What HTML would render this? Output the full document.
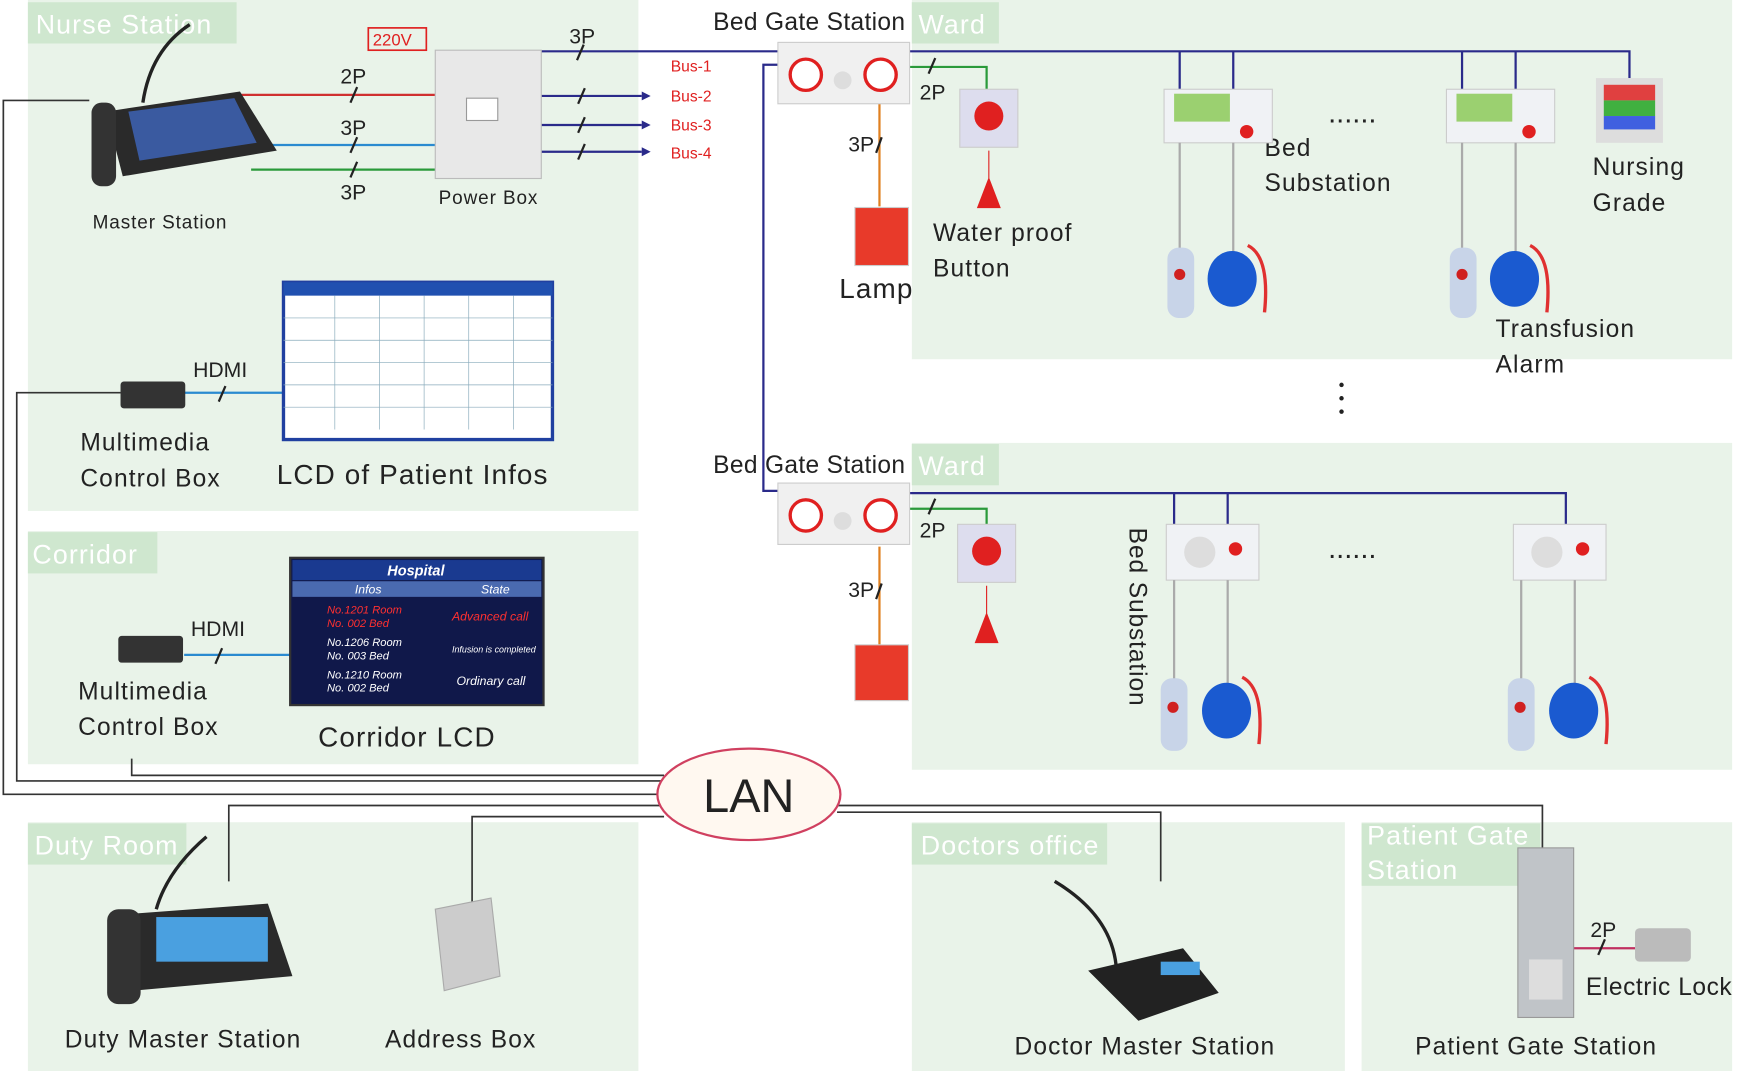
<!DOCTYPE html>
<html><head><meta charset="utf-8"><style>
html,body{margin:0;padding:0;background:#fff;}
svg{display:block;}
text{font-family:"Liberation Sans",sans-serif;}
.big{letter-spacing:1px;}
</style></head><body>
<svg width="1750" height="1071" viewBox="0 0 1568 960" preserveAspectRatio="none" xmlns="http://www.w3.org/2000/svg">
<rect width="1568" height="960" fill="#fff"/>
<g fill="#e9f3e9">
<rect x="25" y="0" width="547" height="458"/>
<rect x="817" y="0" width="735" height="322"/>
<rect x="817" y="397" width="735" height="293"/>
<rect x="25" y="476" width="547" height="209"/>
<rect x="25" y="737" width="547" height="223"/>
<rect x="817" y="737" width="388" height="223"/>
<rect x="1220" y="737" width="332" height="223"/>
</g>
<g fill="#cfe7cf">
<rect x="25" y="2" width="187" height="37"/>
<rect x="817" y="2" width="78" height="37"/>
<rect x="817" y="398" width="78" height="37"/>
<rect x="25" y="477" width="116" height="37"/>
<rect x="25" y="738" width="142" height="37"/>
<rect x="817" y="738" width="175" height="37"/>
<rect x="1220" y="738" width="160" height="56"/>
</g>
<g fill="#fff" font-size="24" class="big">
<text x="32" y="30">Nurse Station</text>
<text x="823" y="30">Ward</text>
<text x="823" y="426">Ward</text>
<text x="29" y="505">Corridor</text>
<text x="31" y="766">Duty Room</text>
<text x="825" y="766">Doctors office</text>
<text x="1225" y="757">Patient Gate</text>
<text x="1225" y="788">Station</text>
</g>
<g fill="none" stroke-width="2">
<path d="M210 85H390" stroke="#d03030"/>
<path d="M215 130H390" stroke="#2a8ad0"/>
<path d="M225 152H390" stroke="#2a9a3a"/>
<path d="M485 46H697" stroke="#2a2a8a"/>
<path d="M485 86H575M485 112H575M485 136H575" stroke="#2a2a8a"/>
<path d="M697 58H684V440H697" stroke="#2a2a8a"/>
<path d="M815 46H1460V70" stroke="#2a2a8a"/>
<path d="M1057 46V80M1105 46V80M1310 46V80M1358 46V80" stroke="#2a2a8a"/>
<path d="M815 60H884V82" stroke="#2a9a3a"/>
<path d="M788 92V185" stroke="#e08020"/>
<path d="M815 442H1403V470M1052 442V470M1100 442V470" stroke="#2a2a8a"/>
<path d="M815 456H884V470" stroke="#2a9a3a"/>
<path d="M788 490V578" stroke="#e08020"/>
<path d="M165 352H255M165 587H260" stroke="#2a8ad0"/>
<path d="M1410 850H1465" stroke="#c03060"/>
<g stroke="#333" stroke-width="1.5">
<path d="M80 90H3V712H595"/>
<path d="M108 352H15V700H595"/>
<path d="M118 680V695H595"/>
<path d="M205 790V722H595"/>
<path d="M423 810V732H595"/>
<path d="M750 722H1382V760"/>
<path d="M750 728H1040V790"/>
</g>
</g>
<g fill="#2a2a8a">
<path d="M575 82l8 4-8 4zM575 108l8 4-8 4zM575 132l8 4-8 4z"/>
</g>
<g stroke="#222" stroke-width="2">
<path d="M314 92l6-14M314 137l6-14M314 159l6-14M517 54l6-14M518 93l6-14M518 119l6-14M518 143l6-14M832 66l6-14M832 461l6-14M785 137l5-14M785 537l5-14M196 360l6-14M193 595l6-14M1432 856l6-14"/>
</g>
<g font-size="19" fill="#222">
<text x="305" y="75">2P</text><text x="305" y="121">3P</text><text x="305" y="179">3P</text>
<text x="510" y="39">3P</text>
<text x="824" y="89">2P</text><text x="760" y="136">3P</text>
<text x="824" y="482">2P</text><text x="760" y="535">3P</text>
<text x="173" y="338">HDMI</text><text x="171" y="570">HDMI</text>
<text x="1425" y="840">2P</text>
</g>
<g font-size="14" fill="#e02020">
<text x="601" y="64">Bus-1</text><text x="601" y="91">Bus-2</text><text x="601" y="117">Bus-3</text><text x="601" y="142">Bus-4</text>
</g>
<rect x="330" y="25" width="52" height="20" fill="none" stroke="#e02020" stroke-width="1.5"/>
<text x="334" y="41" font-size="15" fill="#e02020">220V</text>
<g font-size="22" fill="#222" class="big">
<text x="639" y="27" letter-spacing="0.3">Bed Gate Station</text>
<text x="639" y="424" letter-spacing="0.3">Bed Gate Station</text>
<text x="72" y="404">Multimedia</text><text x="72" y="436">Control Box</text>
<text x="248" y="434" font-size="25">LCD of Patient Infos</text>
<text x="70" y="627">Multimedia</text><text x="70" y="659">Control Box</text>
<text x="285" y="669" font-size="25">Corridor LCD</text>
<text x="752" y="267" font-size="25">Lamp</text>
<text x="836" y="216">Water proof</text><text x="836" y="248">Button</text>
<text x="1133" y="140">Bed</text><text x="1133" y="171">Substation</text>
<text x="1427" y="157">Nursing</text><text x="1427" y="189">Grade</text>
<text x="1340" y="302">Transfusion</text><text x="1340" y="334">Alarm</text>
<text x="58" y="939">Duty Master Station</text>
<text x="345" y="939">Address Box</text>
<text x="909" y="945">Doctor Master Station</text>
<text x="1268" y="945">Patient Gate Station</text>
<text x="1421" y="892" letter-spacing="0.5">Electric Lock</text>
</g>
<text x="83" y="205" font-size="17" fill="#222" letter-spacing="0.8">Master Station</text>
<text x="393" y="183" font-size="17" fill="#222" letter-spacing="0.8">Power Box</text>
<text x="1012" y="473" font-size="22" fill="#222" letter-spacing="0.8" transform="rotate(90 1012 473)">Bed Substation</text>
<text x="1190" y="110" font-size="26" fill="#222">......</text>
<text x="1190" y="500" font-size="26" fill="#222">......</text>
<g fill="#222"><circle cx="1202" cy="345" r="2"/><circle cx="1202" cy="357" r="2"/><circle cx="1202" cy="369" r="2"/></g>
<ellipse cx="671" cy="712" rx="82" ry="41" fill="#fff8f0" stroke="#d04060" stroke-width="2"/>
<text x="630" y="728" font-size="42" fill="#222">LAN</text>
<!-- master station -->
<path d="M95 100L215 82L248 135L110 158Z" fill="#2a2a2a"/>
<path d="M115 100L210 88L230 128L125 144Z" fill="#3a5aa0"/>
<rect x="82" y="92" width="22" height="75" rx="9" fill="#333"/>
<path d="M128 92Q135 45 170 22" stroke="#222" stroke-width="3" fill="none"/>
<rect x="390" y="45" width="95" height="115" fill="#e8e8e8" stroke="#bbb"/>
<rect x="418" y="88" width="28" height="20" fill="#fff" stroke="#999"/>
<g>
<rect x="697" y="38" width="118" height="55" fill="#f0f0f0" stroke="#ccc"/>
<circle cx="722" cy="67" r="14" fill="#fff" stroke="#e02020" stroke-width="3"/>
<circle cx="789" cy="67" r="14" fill="#fff" stroke="#e02020" stroke-width="3"/>
<circle cx="755" cy="72" r="8" fill="#ddd"/>
</g>
<g>
<rect x="697" y="433" width="118" height="55" fill="#f0f0f0" stroke="#ccc"/>
<circle cx="722" cy="462" r="14" fill="#fff" stroke="#e02020" stroke-width="3"/>
<circle cx="789" cy="462" r="14" fill="#fff" stroke="#e02020" stroke-width="3"/>
<circle cx="755" cy="467" r="8" fill="#ddd"/>
</g>
<rect x="766" y="186" width="48" height="52" fill="#e83a2a" stroke="#ccc"/>
<rect x="766" y="578" width="48" height="50" fill="#e83a2a" stroke="#ccc"/>
<rect x="860" y="80" width="52" height="52" fill="#dde" stroke="#ccc"/><circle cx="886" cy="104" r="13" fill="#e02020"/>
<path d="M886 135V160l-10 26h20l-10-26" fill="#e02020" stroke="#e02020"/>
<rect x="858" y="470" width="52" height="52" fill="#dde" stroke="#ccc"/><circle cx="884" cy="494" r="13" fill="#e02020"/>
<path d="M884 525V550l-10 26h20l-10-26" fill="#e02020" stroke="#e02020"/>
<g id="bs1">
<rect x="1043" y="80" width="97" height="48" fill="#f0f2f5" stroke="#ccc"/>
<rect x="1052" y="84" width="50" height="25" fill="#9bd070"/>
<circle cx="1117" cy="118" r="6" fill="#e02020"/>
<path d="M1057 128V225M1105 128V230" stroke="#aaa" stroke-width="2"/>
<rect x="1046" y="222" width="24" height="63" rx="10" fill="#c8d4e8"/><circle cx="1057" cy="246" r="5" fill="#d02020"/>
<ellipse cx="1104" cy="250" rx="22" ry="25" fill="#1a5ad0"/>
<path d="M1118 220q20 10 15 60" stroke="#e03030" stroke-width="3" fill="none"/>
</g>
<use href="#bs1" x="253"/>
<rect x="1430" y="70" width="60" height="58" fill="#ddd"/>
<rect x="1437" y="76" width="46" height="14" fill="#e04040"/><rect x="1437" y="90" width="46" height="14" fill="#40b040"/><rect x="1437" y="104" width="46" height="12" fill="#4060e0"/>
<g id="bs2">
<rect x="1045" y="470" width="83" height="50" fill="#f0f2f5" stroke="#ccc"/>
<circle cx="1075" cy="495" r="14" fill="#ddd"/><circle cx="1107" cy="492" r="6" fill="#e02020"/>
<path d="M1052 520V610M1100 520V615" stroke="#aaa" stroke-width="2"/>
<rect x="1040" y="608" width="24" height="65" rx="10" fill="#c8d4e8"/><circle cx="1051" cy="634" r="5" fill="#d02020"/>
<ellipse cx="1099" cy="637" rx="22" ry="25" fill="#1a5ad0"/>
<path d="M1113 607q20 10 15 60" stroke="#e03030" stroke-width="3" fill="none"/>
</g>
<use href="#bs2" x="311"/>
<rect x="254" y="253" width="241" height="141" fill="#fff" stroke="#2040a0" stroke-width="3"/>
<rect x="254" y="253" width="241" height="12" fill="#2050b0"/>
<g stroke="#8ab" stroke-width="0.6">
<path d="M254 285H495M254 305H495M254 325H495M254 345H495M254 365H495M300 265V385M340 265V385M380 265V385M420 265V385M460 265V385"/>
</g>
<rect x="108" y="342" width="58" height="24" rx="3" fill="#333"/>
<rect x="106" y="570" width="58" height="24" rx="3" fill="#333"/>
<rect x="260" y="500" width="227" height="132" fill="#10184a" stroke="#333" stroke-width="2"/>
<rect x="262" y="502" width="223" height="18" fill="#1a3a90"/>
<text x="347" y="516" font-size="13" fill="#fff" font-style="italic" font-weight="bold">Hospital</text>
<rect x="262" y="521" width="223" height="14" fill="#4a6ab0"/>
<text x="318" y="532" font-size="11" fill="#fff" font-style="italic">Infos</text><text x="431" y="532" font-size="11" fill="#fff" font-style="italic">State</text>
<g font-size="10" font-style="italic">
<text x="293" y="550" fill="#ff3030">No.1201 Room</text><text x="293" y="562" fill="#ff3030">No. 002 Bed</text><text x="405" y="556" fill="#ff3030" font-size="11">Advanced call</text>
<text x="293" y="579" fill="#fff">No.1206 Room</text><text x="293" y="591" fill="#fff">No. 003 Bed</text><text x="405" y="585" fill="#fff" font-size="8">Infusion is completed</text>
<text x="293" y="608" fill="#fff">No.1210 Room</text><text x="293" y="620" fill="#fff">No. 002 Bed</text><text x="409" y="614" fill="#fff" font-size="11">Ordinary call</text>
</g>
<path d="M105 820L240 810L262 875L120 888Z" fill="#2a2a2a"/>
<rect x="140" y="822" width="100" height="40" fill="#4aa0e0"/>
<rect x="96" y="815" width="30" height="85" rx="10" fill="#333"/>
<path d="M140 815Q150 780 185 750" stroke="#222" stroke-width="3" fill="none"/>
<path d="M390 815L440 805L448 875L398 888Z" fill="#ccc" stroke="#aaa"/>
<path d="M975 870L1060 850L1092 890L1020 915Z" fill="#222"/>
<rect x="1040" y="862" width="35" height="12" fill="#4aa0e0"/>
<path d="M1000 865Q995 820 945 790" stroke="#222" stroke-width="3" fill="none"/>
<rect x="1360" y="760" width="50" height="152" fill="#c0c4c8" stroke="#999"/>
<rect x="1370" y="860" width="30" height="36" fill="#ddd"/>
<rect x="1465" y="832" width="50" height="30" rx="4" fill="#bbb"/>
</svg>
</body></html>
